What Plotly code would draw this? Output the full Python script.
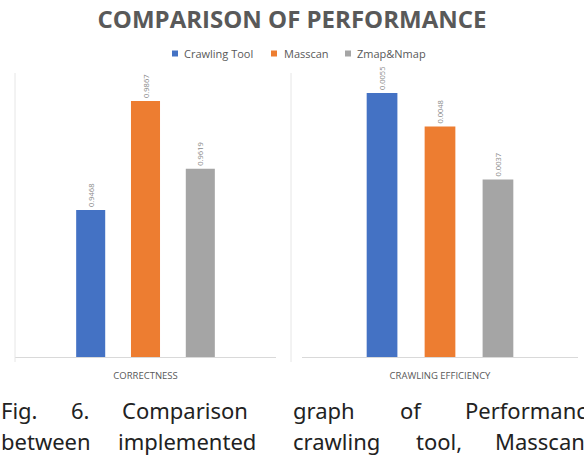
import plotly.graph_objects as go

W, H = 584, 463

series = ["Crawling Tool", "Masscan", "Zmap&Nmap"]
colors = ["#4472C4", "#ED7D31", "#A5A5A5"]
categories = ["CORRECTNESS", "CRAWLING EFFICIENCY"]
correctness = [0.9468, 0.9867, 0.9619]
efficiency = [0.0055, 0.0048, 0.0037]
value_labels_correct = ["0.9468", "0.9867", "0.9619"]
value_labels_eff = ["0.0055", "0.0048", "0.0037"]

fig = go.Figure()
for i, name in enumerate(series):
    fig.add_trace(go.Bar(
        x=[categories[0]], y=[correctness[i]], name=name,
        marker=dict(color=colors[i], line=dict(width=0)),
        text=[value_labels_correct[i]], textposition="outside", textangle=-90,
        textfont=dict(size=7.5, color="#8a8a8a", family="Open Sans"),
        cliponaxis=False, constraintext="none",
        xaxis="x", yaxis="y", showlegend=False,
    ))
for i, name in enumerate(series):
    fig.add_trace(go.Bar(
        x=[categories[1]], y=[efficiency[i]], name=name,
        marker=dict(color=colors[i], line=dict(width=0)),
        text=[value_labels_eff[i]], textposition="outside", textangle=-90,
        textfont=dict(size=7.5, color="#8a8a8a", family="Open Sans"),
        cliponaxis=False, constraintext="none",
        xaxis="x2", yaxis="y2", showlegend=False,
    ))

def px(x):
    return x / W

def py(y):
    return 1 - y / H

ydom = [py(357), py(75)]
axis_common = dict(showline=True, linecolor="#d9d9d9", linewidth=1, ticks="",
                   showgrid=False, zeroline=False, ticklabelstandoff=10,
                   tickfont=dict(size=9.5, color="#595959", family="Open Sans"))

shapes = [
    dict(type="line", xref="paper", yref="paper", x0=px(15), x1=px(15),
         y0=py(362), y1=py(73), line=dict(color="#e6e6e6", width=1)),
    dict(type="line", xref="paper", yref="paper", x0=px(291), x1=px(291),
         y0=py(362), y1=py(73), line=dict(color="#e6e6e6", width=1)),
]
annotations = []
# manual legend
legend_pos = [(172, 182), (271, 282), (345, 355)]
for (sx, tx), name, col in zip(legend_pos, series, colors):
    shapes.append(dict(type="rect", xref="paper", yref="paper",
                       x0=px(sx), x1=px(sx + 6), y0=py(56.5), y1=py(50.5),
                       fillcolor=col, line=dict(width=0)))
    annotations.append(dict(text=name, xref="paper", yref="paper", x=px(tx), y=py(53.5),
                            xanchor="left", yanchor="middle", showarrow=False,
                            font=dict(size=11, color="#595959", family="Open Sans")))

fig.update_layout(
    width=W, height=H,
    margin=dict(l=0, r=0, t=0, b=0),
    paper_bgcolor="white", plot_bgcolor="white",
    barmode="group", bargap=0.37, bargroupgap=0.47,
    showlegend=False,
    title=dict(text="<b>COMPARISON OF PERFORMANCE</b>", x=0.5, xanchor="center",
               y=py(20), yanchor="middle",
               font=dict(size=24, color="#595959", family="Open Sans")),
    xaxis=dict(domain=[px(15), px(276)], anchor="y", **axis_common),
    yaxis=dict(domain=ydom, range=[0.893, 0.9962], visible=False, anchor="x"),
    xaxis2=dict(domain=[px(302), px(578)], anchor="y2", **axis_common),
    yaxis2=dict(domain=ydom, range=[0, 0.005875], visible=False, anchor="x2"),
    shapes=shapes,
)

caption_words = [
    [("Fig.", 0), ("6.", 70), ("Comparison", 121), ("graph", 292), ("of", 399), ("Performance", 464)],
    [("between", 0), ("implemented", 117), ("crawling", 292), ("tool,", 415), ("Masscan", 494)],
]
caption_y = [410, 441]
for line, yy in zip(caption_words, caption_y):
    for word, xx in line:
        annotations.append(dict(text=word, xref="paper", yref="paper", x=px(xx), y=py(yy),
                                xanchor="left", yanchor="middle", showarrow=False,
                                borderpad=0,
                                font=dict(size=22, color="#222222", family="Noto Sans")))

fig.update_layout(annotations=annotations)
fig.write_html("out.html")
